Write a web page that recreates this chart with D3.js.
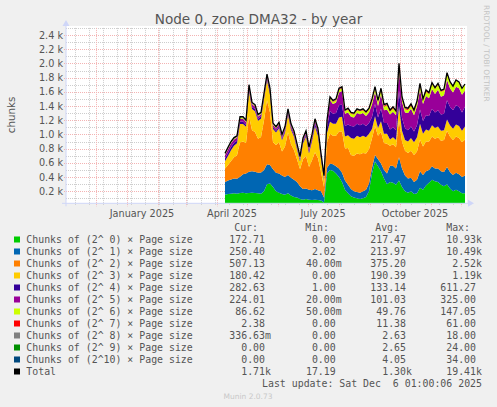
<!DOCTYPE html>
<html>
<head>
<meta charset="utf-8">
<script src="https://cdn.jsdelivr.net/npm/d3@7"></script>
<style>
html, body { margin: 0; padding: 0; background: #f0f0f0; }
svg text { font-family: "DejaVu Sans", sans-serif; }
</style>
</head>
<body>
<svg id="chart" width="497" height="407"></svg>
<script>
// sample days (every 3rd day, daily averages)
var dates = [
  "2025-04-09","2025-04-12","2025-04-15","2025-04-18","2025-04-21","2025-04-24","2025-04-27","2025-04-30",
  "2025-05-03","2025-05-06","2025-05-09","2025-05-12","2025-05-15","2025-05-18","2025-05-21","2025-05-24","2025-05-27","2025-05-30",
  "2025-06-02","2025-06-05","2025-06-08","2025-06-11","2025-06-14","2025-06-17","2025-06-20","2025-06-23","2025-06-26","2025-06-29",
  "2025-07-02","2025-07-05","2025-07-08","2025-07-11","2025-07-14","2025-07-17","2025-07-20","2025-07-23","2025-07-26","2025-07-29",
  "2025-08-01","2025-08-04","2025-08-07","2025-08-10","2025-08-13","2025-08-16","2025-08-19","2025-08-22","2025-08-25","2025-08-28","2025-08-31",
  "2025-09-03","2025-09-06","2025-09-09","2025-09-12","2025-09-15","2025-09-18","2025-09-21","2025-09-24","2025-09-27","2025-09-30",
  "2025-10-03","2025-10-06","2025-10-09","2025-10-12","2025-10-15","2025-10-18","2025-10-21","2025-10-24","2025-10-27","2025-10-30",
  "2025-11-02","2025-11-05","2025-11-08","2025-11-11","2025-11-14","2025-11-17","2025-11-20","2025-11-23","2025-11-26","2025-11-29",
  "2025-12-02","2025-12-05"
];

var order0 = [150,160,165,170,165,175,180,170,175,180,175,170,165,200,300,310,260,200,180,160,150,170,140,120,110,90,80,90,
  80,75,80,75,70,40, 450,500,490,450,400,330,220,170, 130,110,100,90,100,120,200, 450,620,550,480,380,300,
  330,320,290,350,260,200,180,200,160,170,250,220,280,320,360,340,330,290,270,300,240,200,220,200,170,173];
var order1 = [180,190,200,210,210,230,260,280,300,300,300,290,300,300,280,260,250,260,270,260,250,260,250,240,220,180,150,150,
  140,140,150,140,130,70, 80,90,90,100,120,130,130,120, 100,90,90,90,100,100,110, 80,90,100,110,120,150,
  230,240,230,330,260,220,200,190,170,190,230,210,200,180,190,180,190,190,200,240,230,230,240,240,230,250];
var order2 = [190,220,260,300,330,480,460,430,780,580,560,480,500,700,900,740,380,390,440,340,430,600,470,420,320,240,420,460,
  320,420,520,450,270,150, 360,420,400,430,520,580,450,520, 480,500,540,540,540,510,480, 415,407,330,445,380,420,
  280,300,300,520,380,350,360,380,380,400,450,400,420,400,420,420,440,430,450,510,500,490,510,510,490,507];
var order3 = [101,127,152,162,172,262,247,227,352,297,292,252,257,292,282,252,187,177,197,157,197,242,207,187,142,107,222,267,
  193,268,363,308,177,93, 130,170,170,170,200,210,170,180, 240,240,250,240,240,230,220, 130,140,110,150,130,140,
  90,100,100,200,150,150,160,180,180,200,220,180,170,150,160,150,150,140,140,160,160,160,170,170,160,180];
var order4 = [40,45,45,40,35,35,35,30,30,30,30,30,30,30,30,30,25,25,25,25,25,30,25,25,25,20,25,25,
  30,35,40,40,30,20, 80,150,140,150,170,170,150,150, 170,170,170,170,170,160,150, 170,170,150,180,150,150,
  140,140,140,220,180,170,160,160,150,170,200,180,200,210,230,220,230,230,230,270,260,260,270,270,260,283];
var order5 = [45,50,50,45,40,40,40,35,35,35,35,30,30,30,30,30,30,30,30,30,30,30,30,30,25,25,25,30,
  30,35,40,40,30,20, 70,150,140,150,180,190,170,170, 130,130,150,155,150,140,150, 180,170,160,200,180,190,
  210,220,210,280,230,220,240,250,230,265,280,240,270,250,280,260,290,250,260,290,260,250,260,260,250,224];
var order6 = [8,8,8,8,8,8,8,8,8,8,8,8,8,8,8,8,8,8,8,8,8,8,8,8,8,8,8,8,
  10,10,10,10,10,10, 15,25,25,30,35,40,35,40, 40,40,40,40,40,40,40, 50,50,50,60,50,60,
  40,45,45,60,45,45,45,45,45,50,60,50,60,60,70,70,70,70,70,80,80,80,85,80,80,87];
var order7 = [4,4,4,4,4,4,4,4,4,4,4,4,4,4,4,4,4,4,4,4,4,4,4,4,4,4,4,4,
  4,4,4,4,4,4, 5,10,10,10,12,12,10,10, 10,10,10,10,10,10,10, 15,15,15,15,15,15,
  14,15,15,20,15,15,15,15,14,15,20,10,15,10,10,10,10,10,10,10,6,5,5,4,4,2.38];
var order8 = [5,5,5,5,5,5,5,5,5,5,5,5,5,5,5,5,5,5,5,5,5,5,5,5,5,5,5,5,
  4,4,4,4,4,4, 4,4,4,4,4,4,4,4, 4,4,4,4,4,4,4, 4,4,4,4,4,4,
  4,4,4,7,4,4,4,4,4,4,4,4,4,4,4,4,4,4,4,4,2,2,2,2,2,0.34];
var order9 = [5,5,5,5,5,5,5,5,5,5,5,5,5,5,5,5,5,5,5,5,5,5,5,5,5,5,5,5,
  4,4,4,4,4,4, 3,3,3,3,3,3,3,3, 3,3,3,3,3,3,3, 3,3,3,3,3,3,
  3,3,3,6,3,3,3,3,3,3,3,3,3,3,3,3,3,3,3,3,2,1,2,2,2,0];
var order10 = [6,6,6,6,6,6,6,6,6,6,6,6,6,6,6,6,6,6,6,6,6,6,6,6,6,6,6,6,
  5,5,5,5,5,5, 3,3,3,3,3,3,3,3, 3,3,3,3,3,3,3, 3,3,3,3,3,3,
  3,3,3,7,3,3,3,3,3,3,3,3,3,3,3,3,3,3,3,3,2,2,2,2,2,0];
var totals = [734,820,900,955,980,1250,1250,1200,1700,1450,1420,1280,1310,1580,1850,1650,1160,1110,1170,1000,1110,1360,1150,1050,870,690,950,1050,
  820,1000,1220,1080,734,420, 1200,1530,1480,1500,1650,1670,1344,1370, 1310,1300,1360,1344,1360,1320,1370, 1500,1672,1480,1650,1420,1438,
  1344,1390,1330,2000,1530,1380,1370,1430,1344,1470,1720,1500,1626,1590,1730,1660,1720,1620,1640,1870,1742,1680,1766,1740,1650,1710];

var seriesNames = ["Chunks of (2^ 0) \u00d7 Page size","Chunks of (2^ 1) \u00d7 Page size","Chunks of (2^ 2) \u00d7 Page size",
  "Chunks of (2^ 3) \u00d7 Page size","Chunks of (2^ 4) \u00d7 Page size","Chunks of (2^ 5) \u00d7 Page size",
  "Chunks of (2^ 6) \u00d7 Page size","Chunks of (2^ 7) \u00d7 Page size","Chunks of (2^ 8) \u00d7 Page size",
  "Chunks of (2^ 9) \u00d7 Page size","Chunks of (2^10) \u00d7 Page size","Total"];
var colors = ["#00cc00","#0066b3","#ff8000","#ffcc00","#330099","#990099","#ccff00","#ff0000","#808080","#008f00","#00487d","#000000"];

var curVals = [172.71,250.40,507.13,180.42,282.63,224.01,86.62,2.38,0.33663,0,0,1710];
var minVals = [0,2.02,0.04,0,1.00,0.02,0.05,0,0,0,0,17.19];
var avgVals = [217.47,213.97,375.20,190.39,133.14,101.03,49.76,11.38,2.63,2.65,4.05,1300];
var maxVals = [10930,10490,2520,1190,611.27,325.00,147.05,61.00,18.00,24.00,34.00,19410];

var yTicks = [200,400,600,800,1000,1200,1400,1600,1800,2000,2200,2400];
var yMinor = [100,300,500,700,900,1100,1300,1500,1700,1900,2100,2300,2500];
var monthLabels = ["2025-01-16","2025-04-16","2025-07-16","2025-10-16"];

function draw() {
    var svg = d3.select("#chart");
    var plotLeft = 66, plotRight = 466, plotTop = 27.9, plotBottom = 203.3;
    var fontColor = "#555";

    var parseDay = d3.utcParse("%Y-%m-%d");
    var days = dates.map(function(s) { return d3.utcHour.offset(parseDay(s), 12); });

    var xScale = d3.scaleUtc()
        .domain([new Date(Date.UTC(2024, 10, 1, 12)), new Date(Date.UTC(2025, 11, 6, 12))])
        .range([plotLeft, plotRight]);
    var yScale = d3.scaleLinear().domain([30, 2500]).range([plotBottom, plotTop]);

    // canvas
    svg.append("rect").attr("x", plotLeft).attr("y", plotTop - 2).attr("width", plotRight - plotLeft + 1)
        .attr("height", plotBottom - plotTop + 2).attr("fill", "#fff");

    // grid
    var majorX = d3.utcMonth.range(new Date(Date.UTC(2024, 11, 1)), new Date(Date.UTC(2025, 11, 6)));
    var minorX = d3.utcDay.range(new Date(Date.UTC(2024, 10, 10)), new Date(Date.UTC(2025, 11, 6)), 14);
    var grid = svg.append("g");
    grid.selectAll(".vmin").data(minorX).enter().append("line")
        .attr("x1", function(d) { return Math.round(xScale(d)) + 0.5; })
        .attr("x2", function(d) { return Math.round(xScale(d)) + 0.5; })
        .attr("y1", plotTop).attr("y2", plotBottom + 2)
        .attr("stroke", "#cdcdcd").attr("stroke-dasharray", "1,1");
    grid.selectAll(".hmin").data(yMinor).enter().append("line")
        .attr("x1", plotLeft).attr("x2", plotRight)
        .attr("y1", function(d) { return Math.round(yScale(d)) + 0.5; })
        .attr("y2", function(d) { return Math.round(yScale(d)) + 0.5; })
        .attr("stroke", "#cdcdcd").attr("stroke-dasharray", "1,1");
    grid.selectAll(".vmaj").data(majorX).enter().append("line")
        .attr("x1", function(d) { return Math.round(xScale(d)) + 0.5; })
        .attr("x2", function(d) { return Math.round(xScale(d)) + 0.5; })
        .attr("y1", plotTop).attr("y2", plotBottom + 3)
        .attr("stroke", "#f3b3b3").attr("stroke-dasharray", "1,1");
    grid.selectAll(".hmaj").data(yTicks).enter().append("line")
        .attr("x1", plotLeft - 2).attr("x2", plotRight)
        .attr("y1", function(d) { return Math.round(yScale(d)) + 0.5; })
        .attr("y2", function(d) { return Math.round(yScale(d)) + 0.5; })
        .attr("stroke", "#f3b3b3").attr("stroke-dasharray", "1,1");

    // stacked areas
    var seriesArrays = [order0, order1, order2, order3, order4, order5, order6, order7, order8, order9, order10];
    var keys = d3.range(seriesArrays.length);
    var rows = days.map(function(d, i) {
        var r = { date: d };
        keys.forEach(function(k) { r[k] = seriesArrays[k][i]; });
        return r;
    });
    var layers = d3.stack().keys(keys)(rows);

    svg.append("clipPath").attr("id", "plotclip").append("rect")
        .attr("x", plotLeft).attr("y", plotTop - 2).attr("width", plotRight - plotLeft + 1).attr("height", plotBottom - plotTop + 2);

    var area = d3.area()
        .x(function(d) { return xScale(d.data.date); })
        .y0(function(d) { return yScale(d[0]); })
        .y1(function(d) { return yScale(d[1]); });

    var plot = svg.append("g").attr("clip-path", "url(#plotclip)");
    plot.selectAll("path.layer").data(layers).enter().append("path")
        .attr("class", "layer")
        .attr("fill", function(d, i) { return colors[i]; })
        .attr("d", area);

    var totalLine = d3.line()
        .x(function(d, i) { return xScale(days[i]); })
        .y(function(d) { return yScale(d); });
    plot.append("path").datum(totals)
        .attr("fill", "none").attr("stroke", "#000").attr("stroke-width", 1.3)
        .attr("d", totalLine);

    // axes
    var axisColor = "#cfd6f8";
    svg.append("line").attr("x1", plotLeft - 4).attr("x2", plotRight + 3).attr("y1", plotBottom).attr("y2", plotBottom)
        .attr("stroke", axisColor);
    svg.append("line").attr("x1", plotLeft).attr("x2", plotLeft).attr("y1", plotBottom + 3).attr("y2", plotTop - 3)
        .attr("stroke", axisColor);
    svg.append("path").attr("d", "M" + (plotRight + 2) + "," + (plotBottom - 3.5) + "L" + (plotRight + 8) + "," + plotBottom +
            "L" + (plotRight + 2) + "," + (plotBottom + 3.5) + "Z")
        .attr("fill", axisColor);
    svg.append("path").attr("d", "M" + (plotLeft - 3.5) + "," + (plotTop - 2) + "L" + plotLeft + "," + (plotTop - 8) +
            "L" + (plotLeft + 3.5) + "," + (plotTop - 2) + "Z")
        .attr("fill", axisColor);

    var yAxis = d3.axisLeft(yScale).tickValues(yTicks).tickSize(0).tickPadding(3)
        .tickFormat(function(d) { return d3.format(".1f")(d / 1000) + " k"; });
    var gy = svg.append("g").attr("transform", "translate(" + plotLeft + ",0)").call(yAxis);
    gy.select(".domain").remove();
    gy.selectAll("text").attr("fill", fontColor).style("font-family", "DejaVu Sans").style("font-size", "9.7px");

    var xAxis = d3.axisBottom(xScale).tickValues(monthLabels.map(function(s) { return parseDay(s); }))
        .tickSize(0).tickPadding(6.5).tickFormat(d3.utcFormat("%B %Y"));
    var gx = svg.append("g").attr("transform", "translate(0," + plotBottom + ")").call(xAxis);
    gx.select(".domain").remove();
    gx.selectAll("text").attr("fill", fontColor).style("font-family", "DejaVu Sans").style("font-size", "9.7px");

    // titles
    svg.append("text").attr("x", 258.5).attr("y", 24).attr("text-anchor", "middle")
        .attr("fill", fontColor).style("font-size", "13.6px").text("Node 0, zone DMA32 - by year");
    svg.append("text").attr("transform", "translate(15,115) rotate(-90)").attr("text-anchor", "middle")
        .attr("fill", fontColor).style("font-size", "10.3px").text("chunks");
    svg.append("text").attr("transform", "translate(484,5) rotate(90)").attr("text-anchor", "start")
        .attr("fill", "#c4c4c4").style("font-size", "7.5px").text("RRDTOOL / TOBI OETIKER");

    // legend
    function fmt(v) {
        if (v === 0) return ["0.00", ""];
        if (Math.abs(v) >= 1000) return [(v / 1000).toFixed(2), "k"];
        if (Math.abs(v) < 1) return [(v * 1000).toFixed(2), "m"];
        return [v.toFixed(2), ""];
    }
    var mono = "DejaVu Sans Mono";
    var legend = svg.append("g").style("font-size", "9.9px").attr("fill", fontColor);
    var headers = [["Cur:", 258], ["Min:", 329], ["Avg:", 399], ["Max:", 470]];
    headers.forEach(function(h) {
        legend.append("text").attr("x", h[1]).attr("y", 230.8).attr("text-anchor", "end")
            .style("font-family", mono).text(h[0]);
    });
    var colEnds = [265, 335.7, 406, 476];
    var statCols = [curVals, minVals, avgVals, maxVals];
    seriesNames.forEach(function(name, k) {
        var cy = 239.3 + 12 * k;
        legend.append("rect").attr("x", 14).attr("y", cy - 2.8).attr("width", 6).attr("height", 6)
            .attr("fill", colors[k]);
        legend.append("text").attr("x", 26.3).attr("y", cy + 3.5).style("font-family", mono)
            .style("white-space", "pre").text(name);
        statCols.forEach(function(col, c) {
            var p = fmt(col[k]);
            legend.append("text").attr("x", colEnds[c]).attr("y", cy + 3.5).attr("text-anchor", "end")
                .style("font-family", mono).text(p[0]);
            if (p[1]) {
                legend.append("text").attr("x", colEnds[c]).attr("y", cy + 3.5)
                    .style("font-family", mono).text(p[1]);
            }
        });
    });
    legend.append("text").attr("x", 482).attr("y", 386.8).attr("text-anchor", "end")
        .style("font-family", mono).style("white-space", "pre").text("Last update: Sat Dec  6 01:00:06 2025");

    svg.append("text").attr("x", 248).attr("y", 398.5).attr("text-anchor", "middle")
        .attr("fill", "#c8c8c8").style("font-size", "7.5px").text("Munin 2.0.73");
}

draw();
</script>
</body>
</html>
